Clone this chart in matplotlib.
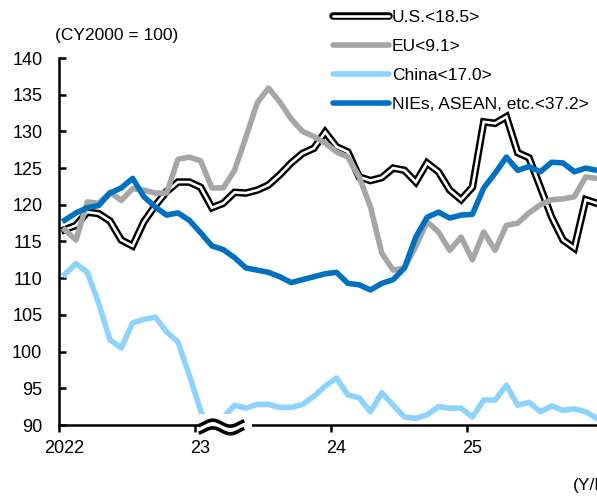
import numpy as np
import matplotlib.pyplot as plt
from matplotlib.lines import Line2D
from matplotlib.patches import Rectangle

plt.rcParams['font.family'] = ['Liberation Sans', 'DejaVu Sans']

# monthly, Jan 2022 - Dec 2025
us = [116.6, 117.2, 119.0, 118.8, 117.8, 115.2, 114.4, 117.7, 119.9, 121.8, 123.1, 123.1,
      122.4, 119.6, 120.2, 121.7, 121.6, 122.0, 122.7, 124.1, 125.7, 127.0, 127.7, 129.9,
      127.9, 127.2, 123.8, 123.3, 123.7, 125.0, 124.7, 123.1, 125.7, 124.5, 122.0, 120.7,
      122.4, 131.3, 131.1, 132.0, 127.1, 126.4, 122.4, 118.3, 115.2, 114.1, 120.7, 120.2]

eu = [116.6, 115.2, 120.4, 120.2, 121.7, 120.6, 122.2, 122.0, 121.6, 121.6, 126.2, 126.5,
      126.0, 122.3, 122.3, 124.7, 129.2, 133.9, 135.9, 134.0, 131.7, 130.0, 129.3, 128.4,
      127.2, 126.5, 123.8, 119.7, 113.4, 111.1, 111.4, 114.3, 117.7, 116.3, 113.8, 115.6,
      112.5, 116.3, 113.8, 117.2, 117.5, 118.9, 120.0, 120.7, 120.8, 121.1, 123.8, 123.6]

china = [110.5, 112.0, 110.8, 106.6, 101.6, 100.5, 103.9, 104.4, 104.7, 102.7, 101.3, 96.8,
         92.0, 88.5, 91.0, 92.7, 92.3, 92.8, 92.8, 92.4, 92.4, 92.8, 93.9, 95.3,
         96.4, 94.1, 93.7, 91.8, 94.4, 92.7, 91.1, 90.9, 91.4, 92.5, 92.3, 92.3,
         91.1, 93.4, 93.4, 95.4, 92.7, 93.1, 91.8, 92.6, 92.0, 92.2, 91.8, 90.9]

nies = [117.9, 118.9, 119.6, 119.9, 121.6, 122.3, 123.6, 121.1, 119.7, 118.6, 118.9, 117.9,
        116.2, 114.4, 113.9, 112.8, 111.4, 111.1, 110.8, 110.2, 109.4, 109.8, 110.2, 110.6,
        110.8, 109.3, 109.1, 108.4, 109.3, 109.8, 111.4, 115.6, 118.3, 119.0, 118.2, 118.6,
        118.7, 122.3, 124.3, 126.5, 124.7, 125.2, 124.5, 125.8, 125.7, 124.5, 125.0, 124.7]

labels = ["U.S.<18.5>", "EU<9.1>", "China<17.0>", "NIEs, ASEAN, etc.<37.2>"]
year_labels = ["2022", "23", "24", "25"]

gray = "#A6A6A6"
light_blue = "#8DD3FF"
blue = "#0070C0"

x = np.arange(len(us))

fig = plt.figure(figsize=(5.97, 5.0), dpi=100)
ax = fig.add_axes([59 / 597, 0.15, 538 / 597, 0.734])

ax.plot(x, us, color="black", lw=5.4, solid_joinstyle="miter", zorder=2)
ax.plot(x, us, color="white", lw=1.9, solid_joinstyle="miter", zorder=2)
ax.plot(x, eu, color=gray, lw=4.0, zorder=2)
ax.plot(x, china, color=light_blue, lw=4.0, zorder=2)
ax.plot(x, nies, color=blue, lw=4.0, zorder=2)

ax.set_xlim(-0.5, 47)
ax.set_ylim(90, 140)
ax.set_yticks(np.arange(90, 141, 5))

# ticks between years, labels at January
ax.set_xticks([-0.5, 11.5, 23.5, 35.5])
ax.set_xticklabels([])
ax.set_xticks([0, 12, 24, 36], minor=True)
ax.set_xticklabels(year_labels, minor=True)
ax.tick_params(axis="x", which="major", direction="out", length=5, width=1.8)
ax.tick_params(axis="x", which="minor", length=0, pad=11, labelsize=13)
ax.tick_params(axis="y", direction="in", length=5, width=1.8, pad=12, labelsize=13)

for s in ["top", "right"]:
    ax.spines[s].set_visible(False)
for s in ["left", "bottom"]:
    ax.spines[s].set_linewidth(1.8)

# axis break mark
trans = ax.get_xaxis_transform()
ax.add_patch(Rectangle((11.95, -0.026), 4.55, 0.056, transform=trans,
                       facecolor="white", edgecolor="none", zorder=5, clip_on=False))
t = np.linspace(-0.1, 1.1, 60)
for yc in [0.005, -0.016]:
    ax.plot(12.3 + t * 3.1, yc + 0.008 * np.sin(2 * np.pi * t), color="black",
            lw=2.6, transform=trans, zorder=6, clip_on=False)

fig.text(55 / 597, 1 - 35 / 500, "(CY2000 = 100)", fontsize=12.5, va="center", ha="left")
fig.text(573 / 597, 1 - 478 / 500, "(Y/M)", fontsize=12.5, va="top", ha="left")

handles = [
    (Line2D([], [], color="black", lw=5.4, solid_capstyle="round"),
     Line2D([], [], color="white", lw=1.9, solid_capstyle="round")),
    Line2D([], [], color=gray, lw=4.0, solid_capstyle="round"),
    Line2D([], [], color=light_blue, lw=4.0, solid_capstyle="round"),
    Line2D([], [], color=blue, lw=4.0, solid_capstyle="round"),
]
fig.legend(handles, labels, loc="upper left", bbox_to_anchor=(333 / 597, 1 - 10 / 500),
           frameon=False, fontsize=12.5, handlelength=3.2, handletextpad=0.2,
           labelspacing=0.8, borderpad=0, borderaxespad=0)

fig.savefig("out.png", dpi=100)
